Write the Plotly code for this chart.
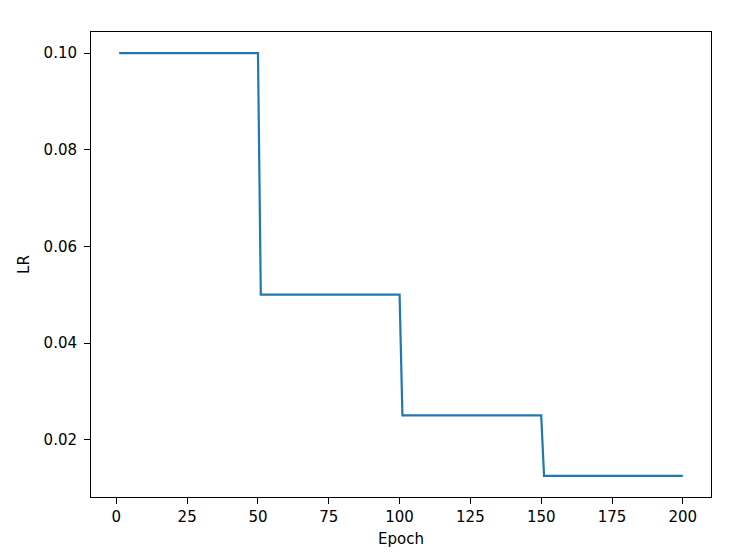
import plotly.graph_objects as go

# Breakpoints of the step schedule (epoch, learning rate)
epochs = [1, 50, 51, 100, 101, 150, 151, 200]
lrs = [0.1, 0.1, 0.05, 0.05, 0.025, 0.025, 0.0125, 0.0125]

x_ticks = [0, 25, 50, 75, 100, 125, 150, 175, 200]
y_ticks = [0.02, 0.04, 0.06, 0.08, 0.10]
y_tick_labels = ["0.02", "0.04", "0.06", "0.08", "0.10"]

fig = go.Figure()
fig.add_trace(go.Scatter(x=epochs, y=lrs, mode="lines",
                         line=dict(color="#1f77b4", width=2.2)))

font = dict(family="DejaVu Sans", size=15, color="#000000")
axis_common = dict(showgrid=False, zeroline=False, showline=True, linecolor="#000000",
                   linewidth=1, mirror=True, ticks="outside", ticklen=6, tickwidth=1,
                   tickcolor="#000000", tickfont=font)

fig.update_layout(
    width=737, height=549,
    margin=dict(l=83, r=34, t=24, b=56),
    paper_bgcolor="white", plot_bgcolor="white",
    showlegend=False,
    xaxis=dict(range=[-8.95, 209.95], tickvals=x_ticks,
               title=dict(text="Epoch", font=font, standoff=8), **axis_common),
    yaxis=dict(range=[0.008125, 0.104375], tickvals=y_ticks, ticktext=y_tick_labels,
               ticklabelstandoff=4,
               title=dict(text="LR", font=font, standoff=10), **axis_common),
)

fig.write_html("out.html")
